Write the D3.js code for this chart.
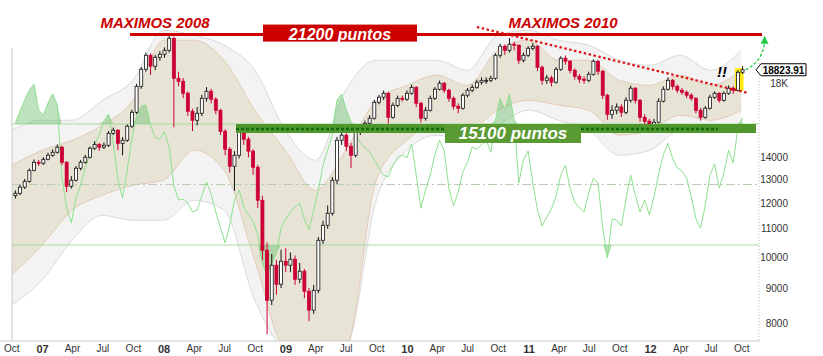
<!DOCTYPE html>
<html><head><meta charset="utf-8">
<script src="https://cdn.jsdelivr.net/npm/d3@7"></script>
<style>body{margin:0;background:#fff;} svg{display:block;font-family:"Liberation Sans",Arial,sans-serif;}</style>
</head><body><svg id="c" width="823" height="356"></svg>
<script>
// ---------- DATA ----------
const startDate = "2006-10-13";      // first bi-weekly candle
const candleStepDays = 14;
const firstOpen = 12300;
const closes = [12400,12660,12910,13400,13770,13725,13910,14100,14245,14490,
13770,12700,12960,13495,13770,14005,14440,14630,14490,14585,
15190,15345,14680,14835,15555,16305,17800,18855,19770,19050,
19635,19835,20105,20935,18290,18105,17385,16360,15870,16250,
17095,17505,17040,16415,15290,14390,13585,14100,15345,14885,
14295,13540,12110,10230,8640,9725,9120,9855,9725,9925,
9275,9530,8905,8355,8935,10580,11130,11590,12960,14835,
15090,14535,14100,15240,15450,15710,15980,16865,17155,17385,
16030,16695,17095,17040,17385,17740,16810,15980,16415,17095,
17625,17985,17565,17095,16640,16530,17270,17565,17740,18045,
18165,18165,18290,19770,20380,20105,20520,20450,19440,19770,
20240,20380,18985,18165,18310,18050,18855,19570,19375,18790,
18410,18230,18165,18540,19375,18730,17270,16195,16415,16600,
16305,16980,17685,16980,16030,15820,15500,15765,16925,17625,
18165,17800,17565,17445,17270,17095,16415,16030,16530,17155,
17385,16980,17385,17685,17565,18665,18823.91];
const highs = [12520,12760,13020,13480,13900,13880,14010,14220,14380,14620,
14560,13820,13150,13600,13880,14120,14520,14780,14700,14720,
15300,15480,15400,15000,15650,16450,17950,19000,19950,19900,
19800,20050,20300,21200,21050,18700,18300,17500,16500,16600,
17300,17750,17650,17150,16500,15400,14500,14300,15500,15600,
15000,14400,13650,12300,10500,10100,9900,10250,10300,10150,
10050,9800,9600,9000,9100,10700,11300,11900,13100,15000,
15350,15200,14700,15400,15600,15850,16150,17000,17300,17550,
17450,16850,17250,17250,17550,17900,17800,16900,16600,17250,
17750,18150,18050,17650,17200,16800,17400,17700,17900,18200,
18350,18350,18450,19900,20550,20500,20950,20700,20500,19950,
20400,20600,20450,19100,18500,18450,19000,19700,19750,19450,
18900,18550,18400,18700,19500,19450,18800,17350,16700,16800,
16750,17150,17850,17750,17050,16200,15950,15950,17100,17800,
18350,18250,17900,17700,17550,17400,17150,16550,16650,17300,
17500,17450,17500,17850,17800,18800,19050];
const lows = [12180,12320,12580,12850,13350,13600,13650,13860,14020,14180,
13650,12450,12600,12900,13400,13700,13950,14350,14320,14400,
14500,15100,14350,14100,14750,15450,16200,17650,18700,18500,
18800,19400,19600,19950,15500,17800,17100,16100,15300,15600,
16100,16900,16800,16200,15100,14100,13300,12500,13950,14600,
14000,13200,11800,9900,7700,8500,8800,9000,9500,9500,
9100,9150,8700,8050,8250,8850,10450,11000,11500,12800,
14600,14300,13500,14000,15100,15300,15600,15900,16750,17000,
15700,15950,16600,16900,16950,17300,16600,15750,15850,16350,
17000,17550,17400,16900,16450,16250,16450,17150,17450,17650,
17900,17950,18050,18200,19600,19800,19950,20100,19200,19300,
19650,20100,18750,17900,17950,17800,17950,18750,19150,18600,
18200,18000,17950,18050,18450,18500,17050,15900,15950,16200,
16050,16200,16850,16800,15800,15550,15250,15350,15700,16850,
17550,17600,17400,17300,17100,16950,16250,15850,15950,16450,
17050,16850,16900,17300,17350,17500,18550];
const oscillator = [70.3,74.3,77.9,81.2,83.2,74.6,73.0,76.9,79.9,76.3,
52.1,42.2,37.3,45.5,49.8,55.5,59.8,63.1,66.4,71.0,
73.3,63.7,51.5,45.5,54.8,65.4,72.3,75.9,76.3,69.7,
65.4,65.0,67.4,62.4,49.5,44.9,45.2,43.9,40.9,41.6,
46.2,50.8,46.9,40.9,35.6,30.7,36.6,44.9,48.2,42.6,
39.9,37.9,33.3,23.7,20.1,23.7,27.4,35.6,38.6,40.9,
42.6,43.9,38.6,35.0,41.6,48.2,56.4,61.4,66.4,77.9,
79.9,74.6,70.7,66.4,63.7,62.1,60.7,58.1,55.5,53.1,
52.5,56.4,58.8,59.8,58.8,63.4,53.1,42.2,48.2,53.1,
59.8,64.7,61.1,48.8,42.9,47.5,54.1,57.4,62.4,61.7,
63.1,64.7,60.7,71.3,78.6,74.6,79.9,71.3,50.5,58.1,
61.1,50.5,41.6,36.3,39.3,41.9,46.2,53.1,56.4,48.8,
44.2,42.2,40.9,47.2,52.1,50.5,35.6,25.7,38.6,38.3,
36.3,45.2,53.1,46.5,40.9,44.9,39.9,45.9,53.4,59.8,
63.7,58.5,55.5,54.5,52.1,45.9,38.6,35.6,43.2,53.1,
56.8,48.8,53.8,61.4,57.1,68.7,72.0];
const oscLevels = [70, 50, 30];

const bandDates = ["2006-10-01","2007-01-01","2007-04-01","2007-07-01","2007-10-01",
"2008-01-01","2008-04-01","2008-07-01","2008-10-01","2009-01-01","2009-04-01","2009-07-01",
"2009-10-01","2010-01-01","2010-04-01","2010-07-01","2010-10-01","2011-01-01","2011-04-01",
"2011-07-01","2011-10-01","2012-01-01","2012-04-01","2012-07-01","2012-10-01"];
const tanUpper  = [13630,14340,14830,15610,16980,20800,20800,19440,16420,14340,12530,14340,16980,17860,18480,17860,20110,20800,19440,19440,18170,17860,18480,17860,18790];
const tanLower  = [9400,10400,11710,12320,12740,12960,14340,13400,9890,7400,7400,7400,12960,14830,15610,15340,16420,16980,16700,16420,15090,15340,16140,15870,16420];
const greyUpper = [15340,15870,15870,16980,18170,21510,21150,20450,18790,15340,13870,17560,19440,19440,19440,18790,21150,21510,20800,20450,19440,19110,19770,18790,20110];
const greyLower = [8500,9240,10580,11510,11320,11320,12110,11710,8640,7400,7400,7400,12110,14340,15090,14830,15610,16420,15870,15340,14100,14340,15340,15340,15610];

const xTickDates = bandDates;
const xTickLabels = ["Oct","07","Apr","Jul","Oct","08","Apr","Jul","Oct","09","Apr","Jul","Oct","10","Apr","Jul","Oct","11","Apr","Jul","Oct","12","Apr","Jul","Oct"];
const yTicks = [8000,9000,10000,11000,12000,13000,14000,18000];
const resistance = 21200, support = 15100, lastValue = 18823.91;
const trendPoints = [["2010-07-30",21750],["2012-10-22",17400]];
const highlight = [18930, 17520];
const labels = {max2008:"MAXIMOS 2008", max2010:"MAXIMOS 2010", res:"21200 puntos", sup:"15100 puntos"};

// ---------- CHART ----------
const svg = d3.select("#c");
const parse = d3.timeParse("%Y-%m-%d");
const start = parse(startDate);
const dates = closes.map((_, i) => d3.timeDay.offset(start, i * candleStepDays));
const candles = closes.map((c, i) => ({d: dates[i], o: i ? closes[i-1] : firstOpen, h: highs[i], l: lows[i], c}));

const x = d3.scaleTime().domain([new Date(2007,0,1), new Date(2012,0,1)]).range([42, 650]);
const y = d3.scaleLog().domain([8000, 18000]).range([323, 83]);
const yo = d3.scaleLinear().domain([30, 70]).range([245, 124]);

const L = 12, R = 759, T = 20, B = 341;
svg.append("defs").append("clipPath").attr("id","clip").append("rect")
  .attr("x", L).attr("y", T).attr("width", R - L).attr("height", B - T);
const plot = svg.append("g").attr("clip-path","url(#clip)");

// bands
const bd = bandDates.map(parse);
function band(up, lo, fill, stroke) {
  const a = d3.area().curve(d3.curveMonotoneX)
    .x((d,i) => x(bd[i])).y0((d,i) => y(lo[i])).y1((d,i) => y(up[i]));
  plot.append("path").datum(up).attr("d", a).attr("fill", fill).attr("stroke", "none");
  const l1 = d3.line().curve(d3.curveMonotoneX).x((d,i)=>x(bd[i])).y(d=>y(d));
  plot.append("path").datum(up).attr("d", l1).attr("fill","none").attr("stroke", stroke).attr("stroke-width",1);
  plot.append("path").datum(lo).attr("d", l1).attr("fill","none").attr("stroke", stroke).attr("stroke-width",1);
}
band(greyUpper, greyLower, "rgba(232,232,232,0.5)", "rgba(210,210,210,0.8)");
band(tanUpper, tanLower, "rgba(218,208,178,0.45)", "rgba(225,190,165,0.7)");

// oscillator
oscLevels.forEach((lv, k) => {
  plot.append("line").attr("x1", L).attr("x2", R).attr("y1", yo(lv)).attr("y2", yo(lv))
    .attr("stroke", k === 1 ? "#b9cdb3" : "#a6dca0").attr("stroke-width", 1)
    .attr("stroke-dasharray", k === 1 ? "9,3,2,3" : null);
});
const oscPts = oscillator.map((v,i) => ({d: dates[i], v}));
plot.append("path").datum(oscPts)
  .attr("d", d3.area().x(p=>x(p.d)).y0(yo(70)).y1(p=>yo(Math.max(p.v,70))))
  .attr("fill","rgba(110,190,110,0.45)");
plot.append("path").datum(oscPts)
  .attr("d", d3.area().x(p=>x(p.d)).y0(yo(30)).y1(p=>yo(Math.min(p.v,30))))
  .attr("fill","rgba(110,190,110,0.45)");
plot.append("path").datum(oscPts)
  .attr("d", d3.line().x(p=>x(p.d)).y(p=>yo(p.v)))
  .attr("fill","none").attr("stroke","#8fe08f").attr("stroke-width",1);

// highlight behind the last candles
const lastD = dates[dates.length-1], prevD = dates[dates.length-2];
plot.append("rect").attr("x", x(prevD)-3).attr("y", y(highlight[0]))
  .attr("width", x(lastD)-x(prevD)+4).attr("height", y(highlight[1]) - y(highlight[0]))
  .attr("fill","rgba(255,232,0,0.9)");

// candles
const cg = plot.append("g");
candles.forEach(k => {
  const up = k.c >= k.o;
  const col = up ? "#111" : "#cc0033";
  const cx = x(k.d);
  cg.append("line").attr("x1", cx).attr("x2", cx).attr("y1", y(k.h)).attr("y2", y(k.l))
    .attr("stroke", col).attr("stroke-width", 1);
  const y1 = y(Math.max(k.o,k.c)), y2 = y(Math.min(k.o,k.c));
  cg.append("rect").attr("x", cx - 1.5).attr("y", y1).attr("width", 3).attr("height", Math.max(1, y2 - y1))
    .attr("fill", up ? "#fff" : "#cc0033").attr("stroke", col).attr("stroke-width", 0.8);
});

// frame lines
svg.append("line").attr("x1", L).attr("x2", L).attr("y1", 48).attr("y2", B).attr("stroke","#c8c8c8");
svg.append("line").attr("x1", 0).attr("x2", R + 1).attr("y1", B).attr("y2", B).attr("stroke","#c8c8c8");
svg.append("line").attr("x1", R).attr("x2", R).attr("y1", 60).attr("y2", B).attr("stroke","#bbb").attr("stroke-dasharray","1,2");

// x axis
const xa = svg.append("g").attr("transform", `translate(0,${B})`)
  .call(d3.axisBottom(x).tickValues(xTickDates.map(parse)).tickSize(0).tickPadding(4)
    .tickFormat((d,i) => xTickLabels[i]));
xa.select(".domain").remove();
xa.selectAll("text").attr("font-family","Liberation Sans, Arial").attr("fill","#333")
  .attr("font-size", (d,i) => /^\d/.test(xTickLabels[i]) ? 11 : 10)
  .attr("font-weight", (d,i) => /^\d/.test(xTickLabels[i]) ? "bold" : "normal");

// y axis (right)
const ya = svg.append("g").attr("transform", `translate(${R},0)`)
  .call(d3.axisRight(y).tickValues(yTicks).tickSize(0).tickPadding(29)
    .tickFormat(d => d === 18000 ? "18K" : d3.format("d")(d)));
ya.select(".domain").remove();
ya.selectAll("text").attr("text-anchor","end").attr("font-size",10).attr("fill","#333")
  .attr("font-family","Liberation Sans, Arial");

// ---------- annotations ----------
const ann = svg.append("g");
const yr = y(resistance);
ann.append("line").attr("x1",130).attr("x2",762).attr("y1",yr).attr("y2",yr)
  .attr("stroke","#cc0000").attr("stroke-width",3);
ann.append("rect").attr("x",263).attr("y",yr-10).attr("width",154).attr("height",17).attr("fill","#cc0000");
ann.append("text").attr("x",340).attr("y",yr+5).attr("text-anchor","middle")
  .attr("fill","#fff").attr("font-weight","bold").attr("font-style","italic").attr("font-size",16)
  .text(labels.res);
ann.append("text").attr("x",155).attr("y",28).attr("text-anchor","middle")
  .attr("fill","#cc0000").attr("font-weight","bold").attr("font-style","italic").attr("font-size",15)
  .text(labels.max2008);
ann.append("text").attr("x",563).attr("y",28).attr("text-anchor","middle")
  .attr("fill","#cc0000").attr("font-weight","bold").attr("font-style","italic").attr("font-size",15)
  .text(labels.max2010);
// trend line
ann.append("line")
  .attr("x1", x(parse(trendPoints[0][0]))).attr("y1", y(trendPoints[0][1]))
  .attr("x2", x(parse(trendPoints[1][0]))).attr("y2", y(trendPoints[1][1]))
  .attr("stroke","#dd1111").attr("stroke-width",2.2).attr("stroke-dasharray","2.5,2.5");
// support
const ys = y(support) - 6;
ann.append("rect").attr("x",236).attr("y",ys-5).attr("width",520).attr("height",9).attr("fill","#4f962c");
ann.append("line").attr("x1",236).attr("x2",718).attr("y1",ys).attr("y2",ys)
  .attr("stroke","#0d6a0d").attr("stroke-width",2.5).attr("stroke-dasharray","3,2");
ann.append("rect").attr("x",445).attr("y",ys-5).attr("width",136).attr("height",19).attr("fill","#5a9a32");
ann.append("text").attr("x",513).attr("y",ys+10).attr("text-anchor","middle")
  .attr("fill","#fff").attr("font-weight","bold").attr("font-style","italic").attr("font-size",17)
  .text(labels.sup);
ann.append("text").attr("x",722).attr("y",77).attr("text-anchor","middle")
  .attr("font-weight","bold").attr("font-style","italic").attr("font-size",15).attr("fill","#000").text("!!");
// green arrow
const ax0 = x(lastD)+3, ay0 = y(lastValue);
ann.append("path").attr("d", `M${ax0},${ay0} Q${ax0+17},${ay0-8} ${ax0+19},${ay0-28}`)
  .attr("fill","none").attr("stroke","#22cc44").attr("stroke-width",1.3).attr("stroke-dasharray","3,2");
ann.append("path").attr("d", `M${ax0+19},${ay0-34} L${ax0+15},${ay0-26} L${ax0+23},${ay0-26} Z`).attr("fill","#22cc44");
// last value label
const yl = y(lastValue);
ann.append("path").attr("d", `M756,${yl} L761,${yl-6} H806 V${yl+6} H761 Z`)
  .attr("fill","#fff").attr("stroke","#000").attr("stroke-width",1);
ann.append("text").attr("x",783.5).attr("y",yl+4).attr("text-anchor","middle")
  .attr("font-weight","bold").attr("font-size",10).attr("fill","#000").text(d3.format(".2f")(lastValue));
</script></body></html>
